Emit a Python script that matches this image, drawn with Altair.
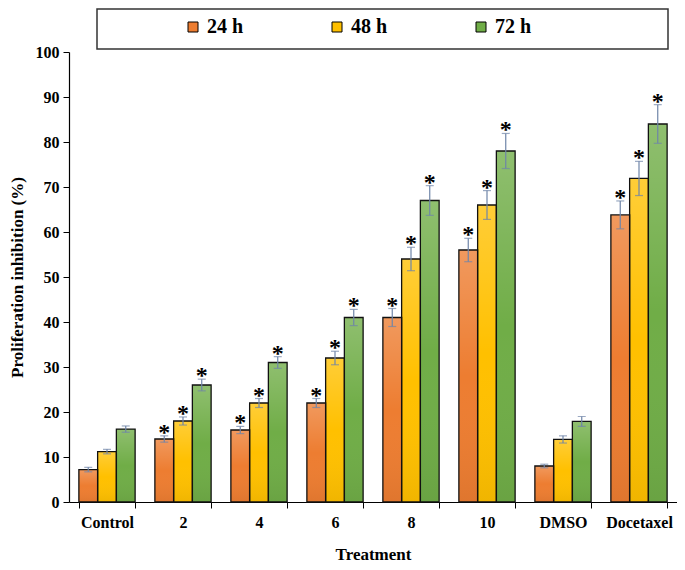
import altair as alt
import pandas as pd

categories = ["Control", "2", "4", "6", "8", "10", "DMSO", "Docetaxel"]
series = ["24 h", "48 h", "72 h"]
values_24 = [7.2, 14.0, 16.0, 22.0, 41.0, 56.0, 8.0, 63.8]
values_48 = [11.2, 18.0, 22.0, 32.0, 54.0, 66.0, 13.9, 71.9]
values_72 = [16.2, 26.0, 31.0, 41.0, 67.0, 78.0, 17.9, 84.0]
err_24 = [0.5, 0.7, 0.8, 1.0, 2.0, 2.6, 0.4, 3.1]
err_48 = [0.5, 0.9, 1.0, 1.5, 2.6, 3.2, 0.8, 3.8]
err_72 = [0.7, 1.3, 1.3, 1.8, 3.3, 3.9, 1.1, 4.3]
significant = [False, True, True, True, True, True, False, True]
colors = ["#ED7D31", "#FFC000", "#70AD47"]

rows = []
for s, vals, errs in zip(series, [values_24, values_48, values_72], [err_24, err_48, err_72]):
    for c, v, e, sig in zip(categories, vals, errs, significant):
        rows.append({"cat": c, "series": s, "value": v, "lo": v - e, "hi": v + e, "star": "*" if sig else ""})
df = pd.DataFrame(rows)

FONT = "Liberation Serif"

x_enc = alt.X("cat:N", sort=categories,
              scale=alt.Scale(paddingInner=0.26, paddingOuter=0.13),
              axis=alt.Axis(title="Treatment", labelAngle=0, tickBand="extent",
                            labelFont=FONT, labelFontSize=16, labelFontWeight="bold",
                            labelColor="black", titleFont=FONT, titleFontSize=17,
                            titleFontWeight="bold", titleColor="black", titlePadding=16,
                            domainColor="black", tickColor="black", tickSize=6,
                            labelPadding=6, grid=False))
xo_enc = alt.XOffset("series:N", sort=series, scale=alt.Scale(paddingInner=0, paddingOuter=0))
y_enc = alt.Y("value:Q", scale=alt.Scale(domain=[0, 100], nice=False),
              axis=alt.Axis(title="Proliferation inhibition (%)", values=list(range(0, 101, 10)),
                            labelFont=FONT, labelFontSize=16, labelFontWeight="bold",
                            labelColor="black", titleFont=FONT, titleFontSize=17,
                            titleFontWeight="bold", titleColor="black", titlePadding=9,
                            domainColor="black", tickColor="black", tickSize=6,
                            labelPadding=4, grid=False))

base = alt.Chart(df)

bars = base.mark_bar(strokeWidth=0).encode(
    x=x_enc, xOffset=xo_enc, y=y_enc,
    color=alt.Color("series:N", sort=series,
                    scale=alt.Scale(domain=series, range=colors),
                    legend=alt.Legend(title=None, orient="none", legendX=114, legendY=-35,
                                      direction="horizontal", columns=3, columnPadding=83,
                                      padding=0,
                                      labelFont=FONT, labelFontSize=20, labelFontWeight="bold",
                                      labelColor="black", symbolType="square", symbolSize=100,
                                      symbolStrokeColor="black", symbolStrokeWidth=1,
                                      symbolOpacity=1, labelOffset=4)),
)

overlay = base.mark_bar(
    fill=alt.Gradient(gradient="linear", x1=0, y1=0, x2=0, y2=1,
                      stops=[alt.GradientStop(color="rgba(255,255,255,0.22)", offset=0),
                             alt.GradientStop(color="rgba(255,255,255,0.0)", offset=0.5),
                             alt.GradientStop(color="rgba(0,0,0,0.06)", offset=1)]),
    strokeWidth=0,
).encode(x=x_enc, xOffset=xo_enc, y=y_enc)

outline = base.mark_bar(fillOpacity=0, stroke="#111111", strokeWidth=1.3).encode(
    x=x_enc, xOffset=xo_enc, y=y_enc)

err_color = "#6F85A8"
rules = base.mark_rule(color=err_color, strokeWidth=1.2).encode(
    x=x_enc, xOffset=xo_enc, y="lo:Q", y2="hi:Q")
cap_hi = base.mark_tick(color=err_color, size=8, thickness=1.2).encode(
    x=x_enc, xOffset=xo_enc, y="hi:Q")
cap_lo = base.mark_tick(color=err_color, size=8, thickness=1.2).encode(
    x=x_enc, xOffset=xo_enc, y="lo:Q")

stars = base.mark_text(font=FONT, fontSize=24, fontWeight="bold", color="black",
                       baseline="alphabetic", dy=4).encode(
    x=x_enc, xOffset=xo_enc, y="hi:Q", text="star:N")

frame = alt.Chart(alt.Data(values=[{"a": 1}])).mark_rect(
    fill="white", fillOpacity=0, stroke="#333333", strokeWidth=1.5).encode(
    x=alt.value(28), x2=alt.value(599), y=alt.value(-43), y2=alt.value(-3))

chart = alt.layer(frame, bars, overlay, outline, rules, cap_hi, cap_lo, stars).properties(
    width=669, height=554, padding={"left": 0, "top": 0, "right": 0, "bottom": 0},
    autosize=alt.AutoSizeParams(type="fit", contains="padding"),
).configure_view(stroke=None).configure_axis(domainWidth=1.2)

chart.save("out.html", embed_options={"renderer": "svg", "actions": False})
